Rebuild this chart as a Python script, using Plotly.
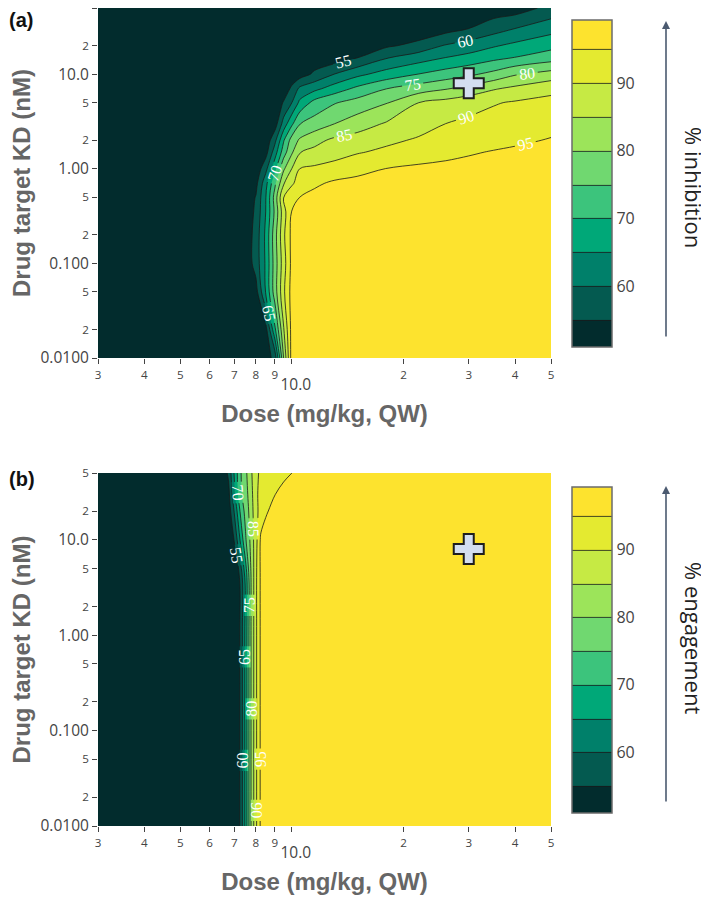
import math
import plotly.graph_objects as go

# ---------------- data ----------------
dose_a = [3, 7, 7.5, 8, 8.5, 9, 9.5, 10, 10.5, 11.5, 13, 15, 18, 22, 26, 30, 35, 40, 50]
kd_a = [0.01, 0.02, 0.05, 0.1, 0.2, 0.35, 0.5, 0.7, 1, 1.5, 2, 3, 5, 7, 10, 15, 20, 30, 50]
inhibition = [
    [50.5, 51, 51.2, 51.5, 52, 57, 80, 97.5, 98, 98.5, 98.8, 99, 99, 99.2, 99.2, 99.3, 99.3, 99.3, 99.3],
    [50.5, 51, 51.2, 51.5, 53, 69, 84.5, 97, 98, 98.5, 98.8, 99, 99, 99.2, 99.2, 99.3, 99.3, 99.3, 99.3],
    [50.5, 51, 51.5, 53, 65.3, 77.5, 89, 97, 98, 98.5, 98.8, 99, 99, 99.2, 99.2, 99.3, 99.3, 99.3, 99.3],
    [50.5, 51, 51.5, 57, 65.7, 77.4, 87.7, 96.5, 97.8, 98.3, 98.7, 99, 99, 99.2, 99.2, 99.3, 99.3, 99.3, 99.3],
    [50.5, 51, 51.5, 57, 66, 78, 89, 96.5, 97.5, 98, 98.5, 98.8, 99, 99, 99.1, 99.2, 99.2, 99.3, 99.3],
    [50.5, 51, 51.5, 56, 65, 76, 88, 95.3, 96.5, 97.3, 97.8, 98.2, 98.5, 98.7, 98.8, 98.9, 99, 99, 99.1],
    [50.5, 51, 51.5, 55.3, 64.7, 77, 90.3, 92.5, 95, 96.3, 97, 97.5, 97.8, 98.1, 98.3, 98.4, 98.5, 98.6, 98.7],
    [50.5, 51, 51.5, 53.5, 63.3, 74, 84.5, 89.5, 91.5, 94.2, 95.8, 96.5, 97, 97.4, 97.6, 97.8, 98, 98.1, 98.3],
    [50.5, 51, 51.2, 51.5, 58.4, 68.5, 79.2, 85.1, 90, 90.9, 92, 93.4, 95.1, 96, 96.4, 96.7, 97, 97.2, 97.5],
    [50.5, 51, 51.2, 51.5, 53, 62.6, 72.6, 79.3, 84.8, 86.2, 87.8, 89.6, 91, 92.3, 93.5, 94.5, 95.3, 95.8, 96.5],
    [50.5, 51, 51, 51.2, 51.5, 58.6, 69.5, 77.2, 80.7, 83.5, 86, 87.2, 89, 90.6, 91.6, 92.5, 93.4, 94.2, 95.3],
    [50.5, 51, 51, 51, 51.2, 52.5, 62, 69, 74.8, 77, 79.9, 82.5, 85.5, 88, 90, 91, 92, 92.7, 93.5],
    [50.5, 51, 51, 51, 51, 51.5, 55.4, 60, 66.1, 71.7, 74.6, 76.9, 79.7, 85, 86.7, 88.1, 89.6, 90.5, 91.3],
    [50.5, 50.8, 51, 51, 51, 51.2, 52, 56, 61.1, 63.7, 67.4, 71.2, 75, 77.6, 79.7, 81.9, 84.6, 86.2, 88.8],
    [50.5, 50.8, 51, 51, 51, 51, 51.2, 51.8, 52.5, 55.9, 60, 63.7, 67.1, 70.1, 72.2, 74, 76.5, 79.5, 82],
    [50.5, 50.8, 51, 51, 51, 51, 51, 51.2, 51.4, 51.7, 52, 54.8, 59.6, 62.6, 65, 66.5, 68.6, 70.1, 72.6],
    [50.5, 50.8, 51, 51, 51, 51, 51, 51, 51.2, 51.4, 51.6, 52, 54.2, 56.6, 60.5, 62.3, 64.5, 66.2, 68.5],
    [50.5, 50.8, 51, 51, 51, 51, 51, 51, 51, 51.2, 51.3, 51.4, 51.5, 51.5, 53.2, 55.1, 58, 60.2, 63.3],
    [50.5, 50.8, 51, 51, 51, 51, 51, 51, 51, 51, 51, 51.1, 51.2, 51.3, 51.5, 51.7, 52, 52.5, 56.5],
]

dose_b = [3, 6.5, 6.75, 7, 7.25, 7.5, 7.75, 8, 8.25, 8.5, 9, 9.5, 10, 12, 20, 30, 50]
kd_b = [0.01, 1, 4, 10, 20, 30, 50]
engagement = [
    [50.5, 51, 51.2, 51.5, 55.2, 66.5, 79.6, 89, 96, 97.5, 98.5, 99, 99, 99.2, 99.3, 99.3, 99.3],
    [50.5, 51, 51.2, 51.5, 55.2, 66.5, 79.6, 89, 96, 97.5, 98.5, 99, 99, 99.2, 99.3, 99.3, 99.3],
    [50.5, 51, 51.2, 51.6, 55.4, 66.5, 79.6, 89, 96, 97.5, 98.5, 99, 99, 99.2, 99.3, 99.3, 99.3],
    [50.5, 51, 52, 55.3, 65.2, 74.3, 81.3, 88.2, 96, 97, 98, 98.5, 99, 99.2, 99.3, 99.3, 99.3],
    [50.5, 51, 52, 60.6, 70.2, 76.8, 82.2, 88.7, 91.8, 94.4, 96.5, 97.5, 98, 98.8, 99.2, 99.3, 99.3],
    [50.5, 51, 53.5, 64, 73.5, 78, 82.8, 89.3, 91.2, 92.5, 94.9, 96.5, 97.5, 98.5, 99, 99.2, 99.3],
    [50.5, 51.5, 56, 65.7, 74.1, 78.8, 83.8, 89.3, 90.6, 91.3, 92.6, 93.9, 95, 97, 98.5, 99, 99.2],
]

cross_dose = [30]
cross_kd = [8]

contour_start, contour_end, contour_step = 55, 95, 5
colorbar_ticks = [60, 70, 80, 90]
band_colors = ["#022c2d", "#045a50", "#00806a", "#00a878", "#3cc47c",
               "#70d870", "#9ce45a", "#c6ea44", "#e4ea30", "#fde32e"]
colorscale = [[i / (len(band_colors) - 1), c] for i, c in enumerate(band_colors)]

# ---------------- figure geometry ----------------
# The page places the figure 8 px from the top-left corner, so layout
# positions below are given in page pixels and converted.
OFF = 8
W, H = 701, 894
ML, MR, MT, MB = 90, 158, 0, 76
PW = W - ML - MR
PH = H - MT - MB


def py(page_y):
    return (H - MB - (page_y - OFF)) / PH


def pxx(page_x):
    return (page_x - OFF - ML) / PW


fig = go.Figure()


def contour(x, y, z, xa, ya, cb_y, cb_len):
    return go.Contour(
        x=x, y=y, z=z, xaxis=xa, yaxis=ya,
        autocontour=False,
        contours=dict(start=contour_start, end=contour_end, size=contour_step,
                      coloring="fill", showlines=True, showlabels=True,
                      labelfont=dict(family="Liberation Serif, Times New Roman, serif",
                                     size=16, color="white")),
        line=dict(color="#1a1a1a", width=0.8),
        colorscale=colorscale, zmin=51, zmax=99.3,
        colorbar=dict(x=pxx(572), xanchor="left", xpad=0, y=cb_y, yanchor="middle",
                      len=cb_len, lenmode="fraction", ypad=0, thickness=40,
                      outlinecolor="#6b6b6b", outlinewidth=1.5,
                      tickvals=colorbar_ticks, ticks="",
                      tickfont=dict(family="Open Sans", size=16, color="#444")),
        hoverinfo="skip",
    )


fig.add_trace(contour(dose_a, kd_a, inhibition, "x", "y", py(183.5), 327 / PH))
fig.add_trace(contour(dose_b, kd_b, engagement, "x2", "y2", py(650), 326 / PH))

for xa, ya in (("x", "y"), ("x2", "y2")):
    fig.add_trace(go.Scatter(
        x=cross_dose, y=cross_kd, xaxis=xa, yaxis=ya, mode="markers",
        marker=dict(symbol="cross", size=25, color="#d3def0",
                    line=dict(color="#1e1e1e", width=2)),
        showlegend=False, hoverinfo="skip"))

xrange_ = [math.log10(3), math.log10(50)]
yrange_ = [-2, math.log10(50.05)]
title_font = dict(family="Liberation Sans", size=24, color="#666666", weight="bold")
axis_common = dict(type="log", ticks="outside", ticklen=5, tickcolor="#444",
                   hoverformat=".3g",
                   tickfont=dict(family="Open Sans", size=15.5, color="#444"),
                   showgrid=False, zeroline=False, showline=False)

fig.update_layout(
    width=W, height=H, margin=dict(l=ML, r=MR, t=MT, b=MB, autoexpand=False),
    paper_bgcolor="white", plot_bgcolor="white", showlegend=False,
    font=dict(family="Open Sans", color="#444"),
    xaxis=dict(axis_common, range=xrange_, dtick="D1", anchor="y", domain=[0, 1],
               title=dict(text="Dose (mg/kg, QW)", font=title_font, standoff=10)),
    yaxis=dict(axis_common, range=yrange_, dtick="D2", anchor="x", domain=[py(358), 1],
               title=dict(text="Drug target KD (nM)", font=title_font, standoff=17)),
    xaxis2=dict(axis_common, range=xrange_, dtick="D1", anchor="y2", domain=[0, 1],
                title=dict(text="Dose (mg/kg, QW)", font=title_font, standoff=10)),
    yaxis2=dict(axis_common, range=yrange_, dtick="D2", anchor="x2", domain=[0, py(473)],
                title=dict(text="Drug target KD (nM)", font=title_font, standoff=17)),
)

ann = []
# panel letters
for letter, top in (("(a)", 8), ("(b)", 467)):
    ann.append(dict(text=letter, x=0, xref="paper", y=py(top), yref="paper",
                    xanchor="left", yanchor="top", xshift=-ML, showarrow=False,
                    borderpad=0,
                    font=dict(family="Liberation Sans", size=20, color="#111", weight="bold")))
# arrows
for tip, tail in ((21, 338), (486, 803)):
    ann.append(dict(text="", x=pxx(666), y=py(tip), xref="paper", yref="paper",
                    ax=0, ay=tail - tip, axref="pixel", ayref="pixel",
                    showarrow=True, arrowhead=2, arrowsize=1, arrowwidth=1.6,
                    arrowcolor="#4b5a70"))
# colorbar side labels
for label, cx, cy in (("% inhibition", 694, 187), ("% engagement", 694, 638)):
    ann.append(dict(text=label, x=pxx(cx), y=py(cy), xref="paper", yref="paper",
                    xanchor="center", yanchor="middle", textangle=90, showarrow=False,
                    borderpad=0,
                    font=dict(family="Open Sans", size=22, color="#222")))
fig.update_layout(annotations=ann)

fig.write_html("out.html")
